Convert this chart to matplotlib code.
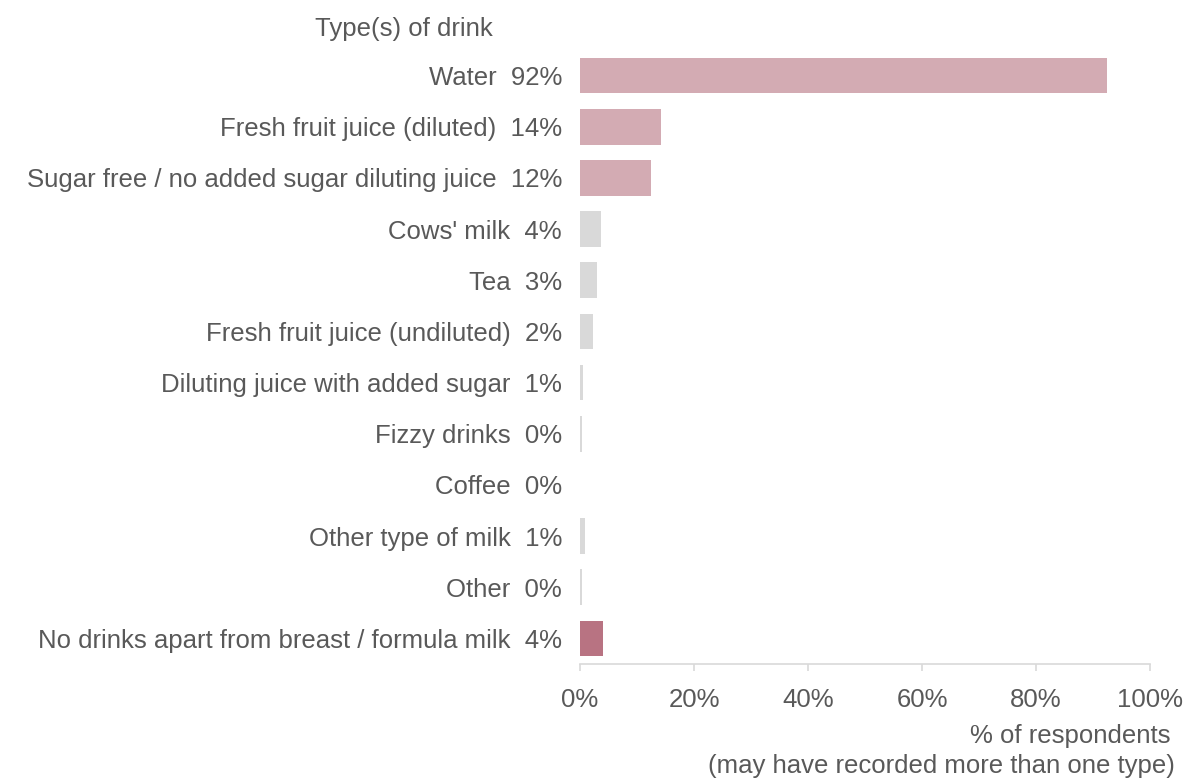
import matplotlib
matplotlib.use("Agg")
import matplotlib.pyplot as plt
from matplotlib.ticker import FuncFormatter

# Drinks given to the baby, share of respondents (%)
drinks = [
    "Water",
    "Fresh fruit juice (diluted)",
    "Sugar free / no added sugar diluting juice",
    "Cows' milk",
    "Tea",
    "Fresh fruit juice (undiluted)",
    "Diluting juice with added sugar",
    "Fizzy drinks",
    "Coffee",
    "Other type of milk",
    "Other",
    "No drinks apart from breast / formula milk",
]
values = [92.5, 14.2, 12.4, 3.7, 3.0, 2.3, 0.5, 0.3, 0.0, 0.8, 0.3, 4.0]
value_labels = ["92%", "14%", "12%", "4%", "3%", "2%", "1%", "0%", "0%", "1%", "0%", "4%"]
groups = ["top", "top", "top", "other", "other", "other",
          "other", "other", "other", "other", "other", "none"]
x_ticks = [0, 20, 40, 60, 80, 100]

palette = {"top": "#D3ABB3", "other": "#D9D9D9", "none": "#B87382"}
text_color = "#595959"
fs = 18.5

plt.rcParams["font.family"] = ["Liberation Sans", "DejaVu Sans"]

fig = plt.figure(figsize=(11.87, 7.81), dpi=100)
ax = fig.add_axes([580 / 1187, 1 - 664 / 781, 570 / 1187, 614 / 781])

ypos = list(range(len(drinks)))
ax.barh(ypos, values, height=0.7, color=[palette[g] for g in groups], linewidth=0)

ax.set_ylim(len(drinks) - 0.5, -0.5)
ax.set_xlim(0, 100)

ax.set_yticks(ypos)
ax.set_yticklabels([f"{d}  {v}" for d, v in zip(drinks, value_labels)],
                   fontsize=fs, color=text_color)
ax.tick_params(axis="y", length=0, pad=13)

ax.set_xticks(x_ticks)
ax.xaxis.set_major_formatter(FuncFormatter(lambda v, _: f"{v:.0f}%"))
ax.tick_params(axis="x", direction="out", length=5, width=1.2, color="#D9D9D9",
               labelsize=fs, labelcolor=text_color, pad=12)

for side in ("top", "right", "left"):
    ax.spines[side].set_visible(False)
ax.spines["bottom"].set_color("#D9D9D9")
ax.spines["bottom"].set_linewidth(1.2)

fig.text(493 / 1187, 1 - 29 / 781, "Type(s) of drink", ha="right", va="center",
         fontsize=fs, color=text_color)
fig.text(1170 / 1187, 1 - 736 / 781, "% of respondents", ha="right", va="center",
         fontsize=fs, color=text_color)
fig.text(1175 / 1187, 1 - 766 / 781, "(may have recorded more than one type)",
         ha="right", va="center", fontsize=fs, color=text_color)

fig.savefig("out.png", dpi=100, facecolor="white")
